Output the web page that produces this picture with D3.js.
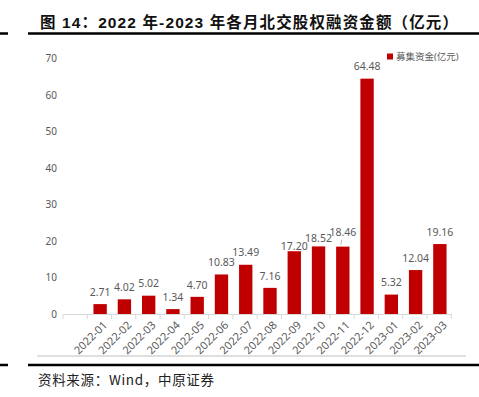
<!DOCTYPE html>
<html>
<head>
<meta charset="utf-8">
<script src="https://cdn.jsdelivr.net/npm/d3@7"></script>
<style>
  html, body { margin: 0; padding: 0; background: #fff; }
  svg { display: block; }
</style>
</head>
<body>
<div id="chart"></div>
<script>
const categories = ['2022-01', '2022-02', '2022-03', '2022-04', '2022-05', '2022-06', '2022-07', '2022-08',
  '2022-09', '2022-10', '2022-11', '2022-12', '2023-01', '2023-02', '2023-03'];
const funds = [2.71, 4.02, 5.02, 1.34, 4.70, 10.83, 13.49, 7.16, 17.20, 18.52, 18.46, 64.48, 5.32, 12.04, 19.16];
const yTicks = [0, 10, 20, 30, 40, 50, 60, 70];
const seriesName = '募集资金(亿元)';
const title = '图 14：2022 年-2023 年各月北交股权融资金额（亿元）';
const source = '资料来源：Wind，中原证券';

const width = 479, height = 397;
const plot = {left: 63, firstBand: 88, right: 452, top: 58.5, bottom: 314};
const red = '#c00000';
const grey = '#595959';
const font = '"Noto Sans", "Noto Sans CJK SC", sans-serif';

// label nudges where the original moved labels around
const labelGap = {'2022-09': 5, '2022-10': 8, '2022-11': 14};

const svg = d3.select('#chart')
  .append('svg')
  .attr('width', width)
  .attr('height', height);

// title + rules
svg.append('text')
  .attr('x', 40)
  .attr('y', 28)
  .attr('font-family', '"Liberation Sans", "Noto Sans CJK SC", sans-serif')
  .attr('font-weight', 'bold')
  .attr('font-size', 15.5)
  .attr('fill', '#111')
  .attr('textLength', 418)
  .attr('lengthAdjust', 'spacing')
  .text(title);

[33.5, 365].forEach(y => {
  svg.append('line').attr('x1', 0).attr('x2', 8).attr('y1', y).attr('y2', y)
    .attr('stroke', '#000').attr('stroke-width', 2.5);
  svg.append('line').attr('x1', 28).attr('x2', width).attr('y1', y).attr('y2', y)
    .attr('stroke', '#000').attr('stroke-width', 2.5);
});

svg.append('line')
  .attr('x1', 37).attr('x2', 466).attr('y1', 356).attr('y2', 356)
  .attr('stroke', '#bfbfbf').attr('stroke-width', 1);

svg.append('text')
  .attr('x', 38)
  .attr('y', 385)
  .attr('font-family', '"Noto Sans CJK SC", sans-serif')
  .attr('font-size', 13.5)
  .attr('fill', '#222')
  .attr('textLength', 176)
  .attr('lengthAdjust', 'spacing')
  .text(source);

const x = d3.scaleBand()
  .domain(categories)
  .range([plot.firstBand, plot.right])
  .paddingInner(0.45)
  .paddingOuter(0.225);

const y = d3.scaleLinear()
  .domain([0, 70])
  .range([plot.bottom, plot.top]);

// y axis labels only
const yAxis = g => g
  .attr('transform', `translate(${plot.left - 2},0)`)
  .call(d3.axisLeft(y).tickValues(yTicks).tickSize(0).tickPadding(4))
  .call(g => g.select('.domain').remove())
  .call(g => g.selectAll('text')
    .attr('font-family', font)
    .attr('font-size', 10)
    .attr('fill', grey));

svg.append('g').call(yAxis);

// bars
svg.append('g')
  .selectAll('rect')
  .data(funds)
  .join('rect')
  .attr('x', (d, i) => x(categories[i]))
  .attr('y', d => y(d))
  .attr('width', x.bandwidth())
  .attr('height', d => y(0) - y(d))
  .attr('fill', red);

// x axis line and ticks at band edges
svg.append('line')
  .attr('x1', plot.left).attr('x2', plot.right)
  .attr('y1', plot.bottom + 0.5).attr('y2', plot.bottom + 0.5)
  .attr('stroke', '#d9d9d9');

const step = x.step();
const edges = d3.range(categories.length + 2).map(i => plot.left + i * step);
svg.append('g')
  .selectAll('line')
  .data(edges)
  .join('line')
  .attr('x1', d => d).attr('x2', d => d)
  .attr('y1', plot.bottom).attr('y2', plot.bottom + 5)
  .attr('stroke', '#d9d9d9');

// rotated category labels
svg.append('g')
  .selectAll('text')
  .data(categories)
  .join('text')
  .attr('transform', d => `translate(${x(d) + x.bandwidth() / 2 + 5},${plot.bottom + 9}) rotate(-45)`)
  .attr('text-anchor', 'end')
  .attr('dy', '0.35em')
  .attr('font-family', font)
  .attr('font-size', 11)
  .attr('fill', grey)
  .text(d => d);

// value labels
svg.append('g')
  .selectAll('text')
  .data(funds)
  .join('text')
  .attr('x', (d, i) => x(categories[i]) + x.bandwidth() / 2)
  .attr('y', (d, i) => y(d) - (labelGap[categories[i]] ?? 12))
  .attr('dy', '0.35em')
  .attr('text-anchor', 'middle')
  .attr('font-family', font)
  .attr('font-size', 10.5)
  .attr('fill', grey)
  .text(d => d.toFixed(2));

// small leader line on the shifted 18.46 label
const lead = categories[10];
svg.append('line')
  .attr('x1', x(lead) + x.bandwidth() / 2 - 1).attr('y1', y(funds[10]) - 7)
  .attr('x2', x(lead) + x.bandwidth() / 2 - 2).attr('y2', y(funds[10]) - 2)
  .attr('stroke', '#a6a6a6').attr('stroke-width', 0.8);

// legend
const legend = svg.append('g').attr('transform', 'translate(387,56.5)');
legend.append('rect')
  .attr('x', 0).attr('y', -3).attr('width', 6).attr('height', 6)
  .attr('fill', red);
legend.append('text')
  .attr('x', 9).attr('y', 0).attr('dy', '0.35em')
  .attr('font-family', font)
  .attr('font-size', 9.5)
  .attr('fill', grey)
  .text(seriesName);
</script>
</body>
</html>
